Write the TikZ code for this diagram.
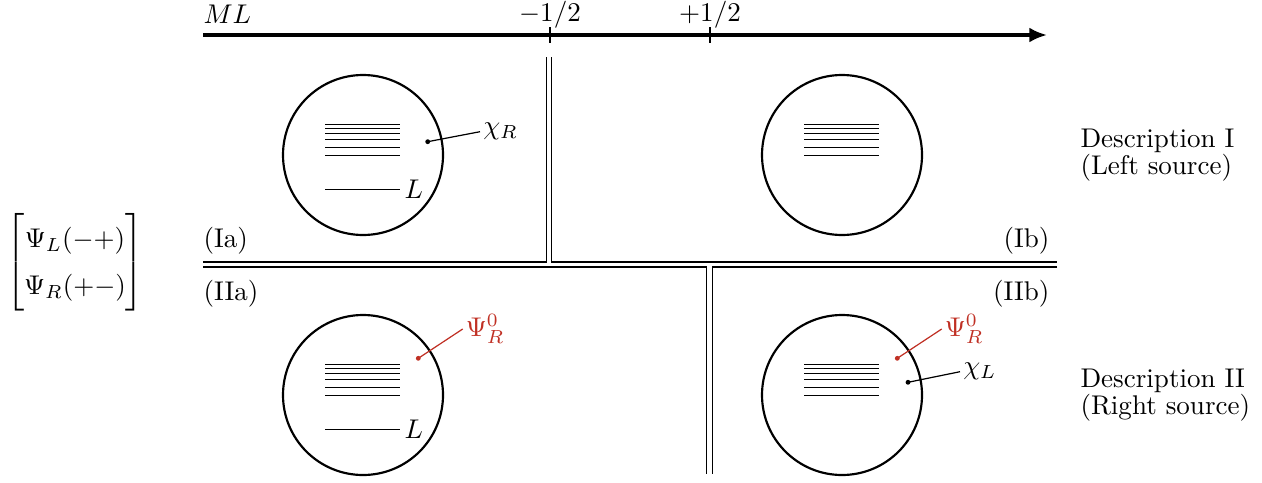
\documentclass[tikz,border=0pt]{standalone}
\usepackage{amsmath}
\usetikzlibrary{arrows.meta}
\definecolor{PsiRed}{RGB}{192,48,36}

\begin{document}
\begin{tikzpicture}[x=1.3cm,y=1.3cm,
  atom/.style={draw,thick,circle,minimum size=2.08cm,inner sep=0pt},
  level/.style={line width=0.35pt},
  wall/.style={line width=0.45pt},
  lead/.style={line width=0.45pt},
  tag/.style={anchor=west,inner sep=1pt}]
  \useasboundingbox (0,0) rectangle (12.62,-4.82);

  % M_L axis
  \coordinate (ax0) at (2.03,-0.35);
  \coordinate (ax1) at (10.47,-0.35);
  \draw[-{Latex[length=6.5pt,width=5.5pt]},line width=1.3pt] (ax0) -- (ax1);
  \node[anchor=base west,inner sep=0pt] (ml) at (2.03,-0.24) {$ML$};
  \foreach \t/\v in {5.5/{-1/2},7.1/{+1/2}}{
    \draw[line width=0.45pt] (\t,-0.27) -- (\t,-0.43);
    \node[anchor=base,inner sep=0pt] at (\t,-0.21) {$\v$};
  }

  % walls between the four regions
  \draw[wall] (5.467,-0.57) -- (5.467,-2.62) -- (2.03,-2.62);
  \draw[wall] (5.517,-0.57) -- (5.517,-2.62) -- (10.57,-2.62);
  \draw[wall] (2.03,-2.67) -- (7.067,-2.67) -- (7.067,-4.74);
  \draw[wall] (10.57,-2.67) -- (7.123,-2.67) -- (7.123,-4.74);

  \node[anchor=base west,inner sep=0pt] (ra) at (2.03,-2.47) {(Ia)};
  \node[anchor=base east,inner sep=0pt] (rb) at (10.50,-2.47) {(Ib)};
  \node[anchor=base west,inner sep=0pt] (rc) at (2.03,-3.00) {(IIa)};
  \node[anchor=base east,inner sep=0pt] (rd) at (10.50,-3.00) {(IIb)};

  % atoms
  \node[atom] (ia) at (3.63,-1.55) {};
  \node[atom] (ib) at (8.42,-1.55) {};
  \node[atom] (iia) at (3.63,-3.95) {};
  \node[atom] (iib) at (8.42,-3.95) {};
  \foreach \cx/\cy in {3.63/-1.55,8.42/-1.55,3.63/-3.95,8.42/-3.95}
    \foreach \d in {0.31,0.27,0.22,0.16,0.08,0}
      \draw[level] (\cx-0.38,\cy+\d) -- (\cx+0.37,\cy+\d);

  % L level
  \foreach \cx/\cy/\n in {3.63/-1.55/la,3.63/-3.95/lb}{
    \draw[level] (\cx-0.38,\cy-0.343) -- (\cx+0.37,\cy-0.343) coordinate (\n);
    \node[right,inner sep=1.5pt] at (\n) {$L$};
  }

  % labels with leaders
  \coordinate (dchiR) at (4.277,-1.417);
  \node[tag] (chiR) at (4.80,-1.317) {$\chi_R$};
  \fill (dchiR) circle (0.9pt);
  \draw[lead] (dchiR) -- (chiR.west);

  \coordinate (dpsiA) at (4.183,-3.583);
  \node[tag,PsiRed] (psiA) at (4.627,-3.29) {$\Psi_R^0$};
  \fill[PsiRed] (dpsiA) circle (0.9pt);
  \draw[lead,PsiRed] (dpsiA) -- (psiA.west);

  \coordinate (dpsiB) at (8.973,-3.583);
  \node[tag,PsiRed] (psiB) at (9.417,-3.29) {$\Psi_R^0$};
  \fill[PsiRed] (dpsiB) circle (0.9pt);
  \draw[lead,PsiRed] (dpsiB) -- (psiB.west);

  \coordinate (dchiL) at (9.08,-3.823);
  \node[tag] (chiL) at (9.60,-3.717) {$\chi_L$};
  \fill (dchiL) circle (0.9pt);
  \draw[lead] (dchiL) -- (chiL.west);

  % state and descriptions
  \node (state) at (0.75,-2.62)
    {$\renewcommand{\arraystretch}{1.45}\begin{bmatrix}\Psi_L(-+)\\ \Psi_R(+-)\end{bmatrix}$};
  \node[anchor=west,align=left,inner sep=0pt] (d1) at (10.80,-1.55) {Description I\\[-2pt](Left source)};
  \node[anchor=west,align=left,inner sep=0pt] (d2) at (10.80,-3.95) {Description II\\[-2pt](Right source)};
\end{tikzpicture}
\end{document}
